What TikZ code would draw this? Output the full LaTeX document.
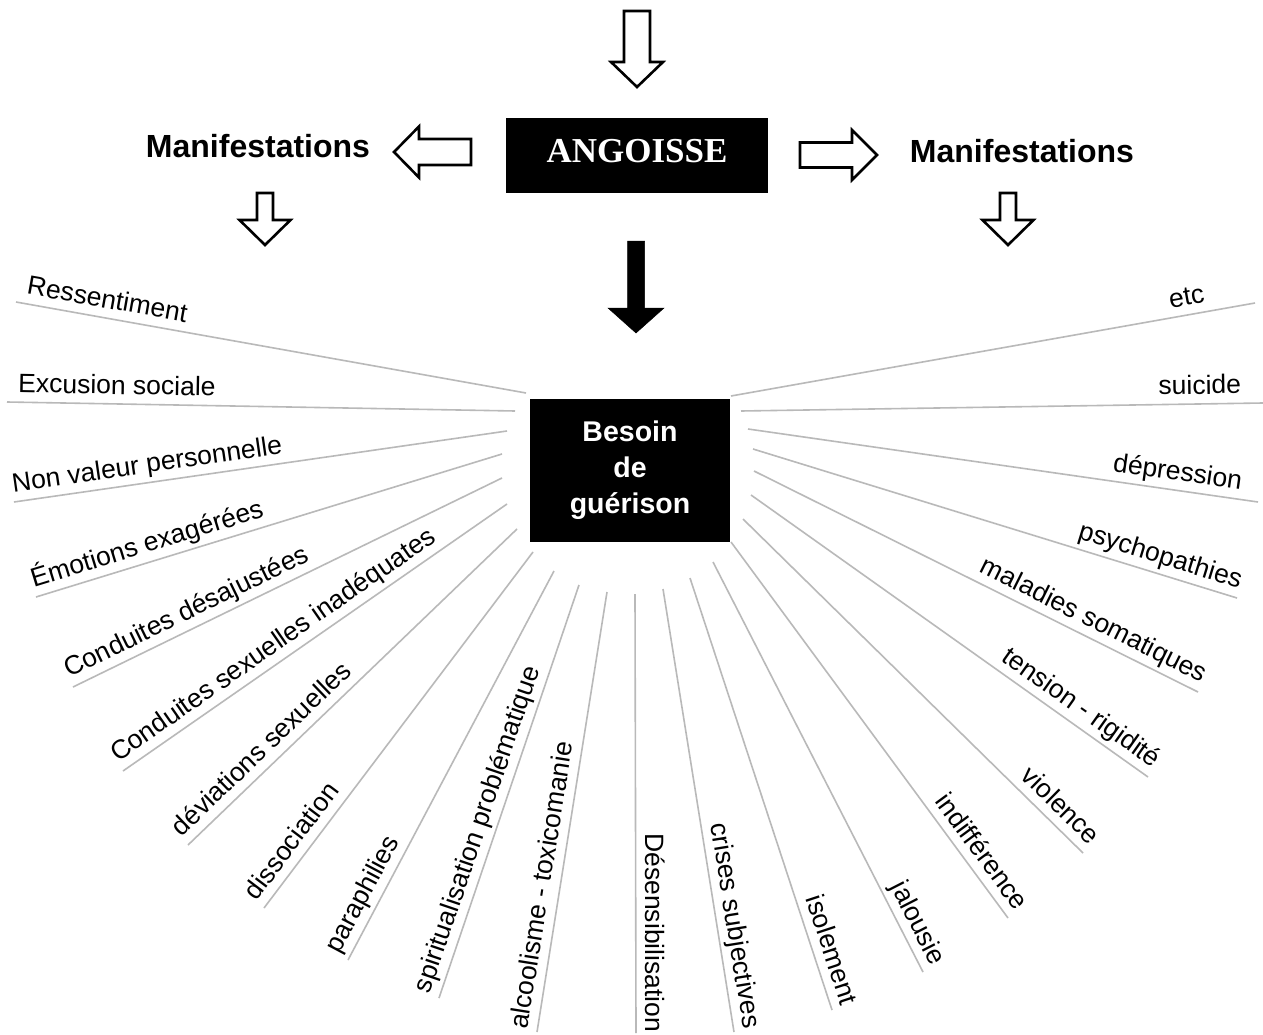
\documentclass[tikz,border=0pt]{standalone}
\usepackage{fontspec}
\setmainfont{Liberation Sans}
\newfontfamily\titlefont{Liberation Serif}
\usepackage{tikz}
\usetikzlibrary{positioning}

\definecolor{fangray}{RGB}{185,185,185}

\tikzset{
  fanline/.style={draw=fangray, line width=1.6pt},
  fanlabel/.style={font=\fontsize{26.5}{30}\selectfont, inner xsep=0pt, inner ysep=9pt, text depth=0pt},
  blockarrow/.style={draw=black, line width=2.6pt, fill=white, line join=miter},
  solidarrow/.style={draw=black, fill=black, line width=0.5pt},
  darkbox/.style={fill=black, text=white, inner sep=0pt},
  manif/.style={font=\bfseries\fontsize{32}{36}\selectfont, anchor=base}
}

% [style] tip x, tip y, rotation, length, head half-width, shaft half-width
\newcommand{\hollowarrow}[7][blockarrow]{%
  \begin{scope}[shift={(#2,#3)}, rotate=#4]
    \draw[#1] (0,0) -- (-25,#6) -- (-25,#7) -- (-#5,#7) -- (-#5,-#7) -- (-25,-#7) -- (-25,-#6) -- cycle;
  \end{scope}}

\begin{document}
\begin{tikzpicture}[x=1pt, y=-1pt]
    \useasboundingbox (0,0) rectangle (1263,1035);
    \fill[white] (0,0) rectangle (1263,1035);

    \node[darkbox, minimum width=262pt, minimum height=75pt, text depth=10pt,
          font=\titlefont\bfseries\fontsize{35}{40}\selectfont] (angoisse) at (637,155.5) {ANGOISSE};
    \node[manif] (manifL) at (258,158) {Manifestations};
    \node[manif] (manifR) at (1022,163) {Manifestations};
    \node[darkbox, minimum width=200pt, minimum height=143pt, align=center,
          font=\bfseries\fontsize{28.5}{36}\selectfont] (besoin) at (630,470.5) {Besoin\\de\\guérison};

    % block arrows
    \hollowarrow{637}{87}{-90}{76}{26}{13}
    \hollowarrow{394}{152}{180}{77}{25.5}{13}
    \hollowarrow{877}{155}{0}{77}{25}{12.5}
    \hollowarrow{265}{245}{-90}{52}{25.5}{8}
    \hollowarrow{1008}{245}{-90}{52}{25.5}{8}
    \hollowarrow[solidarrow]{636}{333}{-90}{92}{28}{8.5}

    % left fan
    \foreach \ox/\oy/\ix/\iy/\p/\lbl [count=\n] in {
        16/302/526/393/0.015/Ressentiment,
        7/402/515/411/0.02/Excusion sociale,
        14/502/507/431/0/Non valeur personnelle,
        36/597/502/454/0/Émotions exagérées,
        73/687/502/478/0/Conduites désajustées,
        123/771/507/504/0/Conduites sexuelles inadéquates,
        188/845/517/529/0/déviations sexuelles,
        264/908/533/552/0/dissociation,
        348/960/554/571/0/paraphilies,
        439/998/579/585/0/spiritualisation problématique,
        537/1032/607/592/0/alcoolisme - toxicomanie} {
        \coordinate (lo\n) at (\ox,\oy);
        \coordinate (li\n) at (\ix,\iy);
        \draw[fanline] (lo\n) -- (li\n) node[pos=\p, sloped, anchor=south west, fanlabel] (ll\n) {\lbl};
    }

    % right fan
    \foreach \ix/\iy/\ox/\oy/\p/\lbl [count=\n] in {
        731/396/1255/303/0.91/etc,
        741/411/1263/403/0.96/suicide,
        748/429/1258/502/0.965/dépression,
        753/449/1237/598/1/psychopathies,
        754/471/1198/692/1/maladies somatiques,
        751/495/1148/777/1/tension - rigidité,
        743/519/1083/853/1/violence,
        731/542/1008/918/1/indifférence,
        713/562/923/972/1/jalousie,
        690/578/832/1010/1/isolement,
        663/589/734/1032/1/crises subjectives,
        635/594/636/1033/1/Désensibilisation} {
        \coordinate (ri\n) at (\ix,\iy);
        \coordinate (ro\n) at (\ox,\oy);
        \draw[fanline] (ri\n) -- (ro\n) node[pos=\p, sloped, anchor=south east, fanlabel] (rl\n) {\lbl};
    }
\end{tikzpicture}
\end{document}
